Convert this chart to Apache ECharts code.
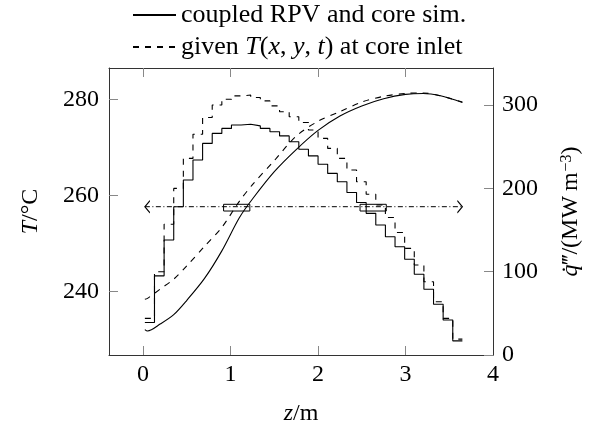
<!DOCTYPE html>
<html><head><meta charset="utf-8">
<script src="https://cdn.jsdelivr.net/npm/echarts@6/dist/echarts.min.js"></script>
<style>html,body{margin:0;padding:0;background:#fff}#c{width:597px;height:431px}</style>
</head><body><div id="c"></div>
<script>
// ---- data ----
const zEdges = [0.02,0.13,0.24,0.35,0.46,0.57,0.68,0.79,0.90,1.01,1.12,1.23,1.34,1.45,1.56,1.67,1.78,1.89,2.00,2.11,2.22,2.33,2.44,2.55,2.66,2.77,2.88,2.99,3.10,3.21,3.32,3.43,3.54,3.65];
const qCoupled = [39,95,138,178,210,234,254,266,272,276,277,275,272,268,263,256,247,239,229,218,208,195,183,170,156,142,130,115,97,79,61,42,17];
const qGiven = [44,100,157,200,236,265,285,300,307,311,312,309,305,299,292,286,279,270,260,248,236,222,208,193,180,165,147,128,108,88,64,44,19];
const zT = [0.02,0.05,0.2,0.35,0.5,0.7,0.9,1.1,1.25,1.5,1.75,2.0,2.25,2.5,2.75,3.0,3.2,3.4,3.65];
const TCoupled = [232.1,231.8,233.3,235.2,238.2,242.7,248.5,255.4,259.3,265.0,269.6,273.6,276.6,278.7,280.2,281.1,281.3,280.8,279.4];
const TGiven = [238.4,238.6,240.6,242.6,245.4,249.4,253.4,258.8,262.3,267.3,272.4,275.5,277.5,279.5,280.7,281.3,281.4,280.8,279.5];
const xTicks = [0,1,2,3,4];
const xTicksInner = [0,1,2,3];
const yTicksT = [240,260,280];
const yTicksQ = [0,100,200,300];
const arrowZ = [0.02,3.65];
const arrowT = 257.7;
const boxZ = [[0.92,1.22],[2.48,2.78]];
const boxT = [256.8,258.2];
const names = ['coupled RPV and core sim.','given T(x,y,t) at core inlet'];

const FF = '"Liberation Serif","DejaVu Serif",serif';
const FS = 24;
const LFS = 26;
function stepData(edges, vals){
  const d = vals.map((v,i)=>[edges[i], v]);
  d.push([edges[vals.length], vals[vals.length-1]]);
  return d;
}
const richBase = {
  r:{fontFamily:FF,fontSize:FS,color:'#000'},
  i:{fontFamily:FF,fontSize:FS,fontStyle:'italic',color:'#000'},
  s:{fontFamily:FF,fontSize:16,color:'#000',verticalAlign:'top',padding:[0,0,0,1]}
};
const richLegend = {
  r:{fontFamily:FF,fontSize:LFS,lineHeight:26,color:'#000'},
  i:{fontFamily:FF,fontSize:LFS,lineHeight:26,fontStyle:'italic',color:'#000'}
};
const lineCol = '#000';
const axisCol = '#333';
const tickCol = '#888';

const chart = echarts.init(document.getElementById('c'), null, {renderer:'canvas'});
chart.setOption({
  animation:false,
  backgroundColor:'#fff',
  grid:{left:109,right:104,top:68,bottom:75},
  legend:{
    data:names, orient:'vertical', left:127, top:-3,
    itemWidth:43, itemHeight:14, itemGap:6,
    itemStyle:{opacity:0},
    textStyle:{fontFamily:FF,fontSize:LFS,lineHeight:26,color:'#000',rich:richLegend},
    formatter:function(n){
      if(n===names[1]) return '{r|given }{i|T}{r|(}{i|x}{r|, }{i|y}{r|, }{i|t}{r|) at core inlet}';
      return '{r|'+n+'}';
    }
  },
  xAxis:[{
    type:'value', position:'bottom', min:-0.39, max:4,
    axisLine:{show:true,onZero:false,lineStyle:{color:axisCol,width:1}},
    axisTick:{show:true,inside:true,length:9,customValues:xTicksInner,lineStyle:{color:tickCol}},
    axisLabel:{customValues:xTicks,margin:8,fontFamily:FF,fontSize:FS,color:'#000'},
    splitLine:{show:false},
    name:'{i|z}{r|/m}', nameLocation:'middle', nameGap:47,
    nameTextStyle:{fontFamily:FF,fontSize:FS,rich:richBase}
  },{
    type:'value', position:'top', min:-0.39, max:4,
    axisLine:{show:true,onZero:false,lineStyle:{color:axisCol,width:1}},
    axisTick:{show:true,inside:true,length:9,customValues:xTicksInner,lineStyle:{color:tickCol}},
    axisLabel:{show:false}, splitLine:{show:false}
  }],
  yAxis:[{
    type:'value', position:'left', min:226.8, max:286.6,
    axisLine:{show:true,onZero:false,lineStyle:{color:axisCol,width:1}},
    axisTick:{show:true,inside:true,length:9,customValues:yTicksT,lineStyle:{color:tickCol}},
    axisLabel:{customValues:yTicksT,margin:10,fontFamily:FF,fontSize:FS,color:'#000'},
    splitLine:{show:false},
    name:'{i|T}{r|/°C}', nameLocation:'middle', nameGap:66, nameRotate:90,
    nameTextStyle:{fontFamily:FF,fontSize:FS,rich:richBase}
  },{
    type:'value', position:'right', min:0, max:344.5,
    axisLine:{show:true,onZero:false,lineStyle:{color:axisCol,width:1}},
    axisTick:{show:true,inside:true,length:9,customValues:yTicksQ,lineStyle:{color:tickCol}},
    axisLabel:{customValues:yTicksQ,margin:9,fontFamily:FF,fontSize:FS,color:'#000'},
    splitLine:{show:false},
    name:'{i|q̇}{r|‴/(MW\u2009m}{s|−3}{r|)}', nameLocation:'middle', nameGap:66, nameRotate:90,
    nameTextStyle:{fontFamily:FF,fontSize:FS,rich:richBase}
  }],
  series:[
    {name:names[0],type:'line',xAxisIndex:0,yAxisIndex:0,smooth:0.3,symbol:'none',
     data:zT.map((z,i)=>[z,TCoupled[i]]),lineStyle:{color:lineCol,width:1.1},itemStyle:{color:lineCol}},
    {name:names[1],type:'line',xAxisIndex:0,yAxisIndex:0,smooth:0.3,symbol:'none',
     data:zT.map((z,i)=>[z,TGiven[i]]),lineStyle:{color:lineCol,width:1.1,type:[6,6]},itemStyle:{color:lineCol}},
    {name:names[0],type:'line',xAxisIndex:0,yAxisIndex:1,step:'end',symbol:'none',
     data:stepData(zEdges,qCoupled),lineStyle:{color:lineCol,width:1.1},itemStyle:{color:lineCol}},
    {name:names[1],type:'line',xAxisIndex:0,yAxisIndex:1,step:'end',symbol:'none',
     data:stepData(zEdges,qGiven),lineStyle:{color:lineCol,width:1.1,type:[6,6]},itemStyle:{color:lineCol}},
    {name:'range',type:'line',xAxisIndex:0,yAxisIndex:0,
     lineStyle:{color:lineCol,width:1,type:[5,2.5,1,2.5]},
     itemStyle:{color:'rgba(0,0,0,0)',borderColor:lineCol,borderWidth:1},
     data:[
       {value:[arrowZ[0],arrowT],symbol:'path://M10,0L0,5L10,10',symbolSize:[5,12],symbolOffset:[2.5,0]},
       {value:[arrowZ[1],arrowT],symbol:'path://M0,0L10,5L0,10',symbolSize:[5,12],symbolOffset:[-2.5,0]}
     ],
     markArea:{silent:true,
       itemStyle:{color:'rgba(0,0,0,0)',borderColor:lineCol,borderWidth:1},
       data:boxZ.map(b=>[{xAxis:b[0],yAxis:boxT[0]},{xAxis:b[1],yAxis:boxT[1]}])
     }
    }
  ]
});
</script></body></html>
